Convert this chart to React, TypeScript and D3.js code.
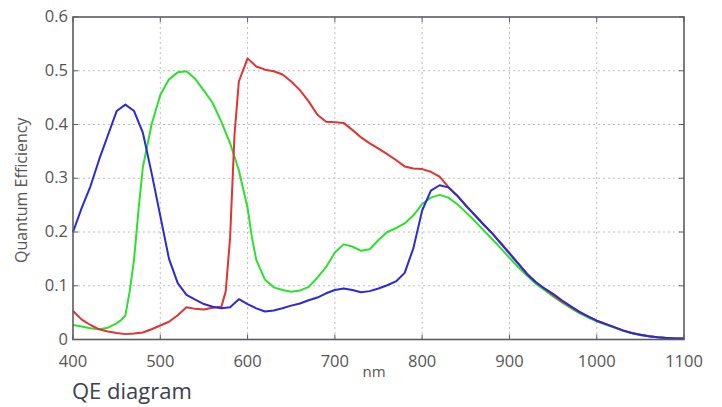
import React from "react";
import * as d3 from "d3";

const xTicks = [400, 500, 600, 700, 800, 900, 1000, 1100];
const yTicks = [0, 0.1, 0.2, 0.3, 0.4, 0.5, 0.6];
const yTickLabels = ["0", "0.1", "0.2", "0.3", "0.4", "0.5", "0.6"];

const tailNm = [1010, 1020, 1030, 1040, 1050, 1060, 1070, 1080, 1090, 1100];

const blueNm = [400, 410, 420, 430, 440, 450, 460, 470, 480, 490, 500, 510, 520, 530, 540, 550, 560, 570, 580, 590, 600, 610, 620, 630, 640, 650, 660, 670, 680, 690, 700, 710, 720, 730, 740, 750, 760, 770, 780, 790, 800, 810, 820, 830, 840, 850, 860, 870, 880, 890, 900, 910, 920, 930, 940, 950, 960, 970, 980, 990, 1000, ...tailNm];
const blueQE = [0.200, 0.245, 0.285, 0.335, 0.380, 0.425, 0.437, 0.425, 0.385, 0.310, 0.230, 0.150, 0.105, 0.083, 0.074, 0.066, 0.061, 0.058, 0.060, 0.075, 0.066, 0.058, 0.052, 0.054, 0.058, 0.063, 0.067, 0.073, 0.078, 0.086, 0.092, 0.095, 0.092, 0.088, 0.090, 0.095, 0.101, 0.108, 0.124, 0.170, 0.240, 0.277, 0.287, 0.283, 0.268, 0.249, 0.232, 0.215, 0.198, 0.179, 0.160, 0.141, 0.122, 0.107, 0.095, 0.085, 0.073, 0.062, 0.052, 0.043, 0.035, 0.029, 0.023, 0.017, 0.012, 0.009, 0.006, 0.004, 0.003, 0.002, 0.002];

const greenNm = [400, 410, 420, 430, 440, 450, 455, 460, 465, 470, 475, 480, 490, 500, 510, 520, 530, 540, 550, 560, 570, 580, 590, 600, 605, 610, 620, 630, 640, 650, 660, 670, 680, 690, 700, 710, 720, 730, 740, 750, 760, 770, 780, 790, 800, 810, 820, 830, 840, 850, 860, 870, 880, 890, 900, 910, 920, 930, 940, 950, 960, 970, 980, 990, 1000, ...tailNm];
const greenQE = [0.027, 0.024, 0.021, 0.019, 0.022, 0.030, 0.036, 0.045, 0.090, 0.150, 0.240, 0.320, 0.400, 0.455, 0.484, 0.497, 0.499, 0.485, 0.463, 0.440, 0.405, 0.365, 0.315, 0.245, 0.190, 0.148, 0.111, 0.097, 0.092, 0.089, 0.091, 0.098, 0.115, 0.135, 0.162, 0.177, 0.173, 0.165, 0.168, 0.185, 0.200, 0.207, 0.216, 0.231, 0.252, 0.264, 0.269, 0.264, 0.252, 0.237, 0.221, 0.204, 0.187, 0.170, 0.152, 0.135, 0.119, 0.104, 0.092, 0.080, 0.069, 0.059, 0.049, 0.041, 0.034, 0.028, 0.022, 0.016, 0.012, 0.008, 0.006, 0.004, 0.003, 0.002, 0.002];

const redNm = [400, 410, 420, 430, 440, 450, 460, 470, 480, 490, 500, 510, 520, 530, 540, 550, 560, 570, 575, 580, 585, 590, 600, 610, 620, 630, 640, 650, 660, 670, 680, 690, 700, 710, 720, 730, 740, 750, 760, 770, 780, 790, 800, 810, 820, 830, 840, 850, 860, 870, 880, 890, 900, 910, 920, 930, 940, 950, 960, 970, 980, 990, 1000, ...tailNm];
const redQE = [0.053, 0.037, 0.027, 0.019, 0.015, 0.012, 0.010, 0.011, 0.013, 0.019, 0.026, 0.033, 0.045, 0.060, 0.057, 0.056, 0.059, 0.061, 0.090, 0.190, 0.380, 0.480, 0.523, 0.508, 0.502, 0.499, 0.493, 0.480, 0.464, 0.443, 0.418, 0.405, 0.404, 0.403, 0.390, 0.376, 0.365, 0.355, 0.345, 0.334, 0.322, 0.318, 0.317, 0.312, 0.303, 0.284, 0.268, 0.250, 0.232, 0.214, 0.198, 0.180, 0.161, 0.142, 0.123, 0.107, 0.095, 0.083, 0.071, 0.061, 0.051, 0.043, 0.035, 0.029, 0.023, 0.017, 0.012, 0.009, 0.006, 0.004, 0.003, 0.002, 0.002];

const series = [
  { name: "Green", nm: greenNm, qe: greenQE, color: "#2ee02e" },
  { name: "Red", nm: redNm, qe: redQE, color: "#e23232" },
  { name: "Blue", nm: blueNm, qe: blueQE, color: "#2a2ad6" },
];

const W = 722;
const H = 407;
const left = 73;
const right = 684;
const top = 17;
const bottom = 339.5;

export default function App() {
  const x = d3.scaleLinear().domain([400, 1100]).range([left, right]);
  const y = d3.scaleLinear().domain([0, 0.6]).range([bottom, top]);
  const line = d3
    .line<[number, number]>()
    .x((d) => x(d[0]))
    .y((d) => y(d[1]))
    .curve(d3.curveLinear);
  const font = "'Open Sans', 'Noto Sans', sans-serif";
  const frame = "#5a5d62";
  const tickLen = 5;
  return (
    <svg
      width={W}
      height={H}
      style={{ position: "absolute", left: 0, top: 0, background: "#fff" }}
      fontFamily={font}
    >
      <rect x={0} y={0} width={W} height={H} fill="#fff" />
      {/* grid */}
      {xTicks.slice(1, -1).map((t) => (
        <line key={"gx" + t} x1={x(t)} x2={x(t)} y1={top} y2={bottom} stroke="#bdbdbd" strokeWidth={1} strokeDasharray="2,3" />
      ))}
      {yTicks.slice(1, -1).map((t) => (
        <line key={"gy" + t} x1={left} x2={right} y1={y(t)} y2={y(t)} stroke="#bdbdbd" strokeWidth={1} strokeDasharray="2,3" />
      ))}
      {/* ticks */}
      {xTicks.map((t) => (
        <g key={"tx" + t}>
          <line x1={x(t)} x2={x(t)} y1={bottom} y2={bottom - tickLen} stroke={frame} strokeWidth={1} />
          <line x1={x(t)} x2={x(t)} y1={top} y2={top + tickLen} stroke={frame} strokeWidth={1} />
          <text x={x(t)} y={367} textAnchor="middle" fontSize={16.5} fill="#555">
            {t}
          </text>
        </g>
      ))}
      {yTicks.map((t, i) => (
        <g key={"ty" + t}>
          <line x1={left} x2={left + tickLen} y1={y(t)} y2={y(t)} stroke={frame} strokeWidth={1} />
          <line x1={right} x2={right - tickLen} y1={y(t)} y2={y(t)} stroke={frame} strokeWidth={1} />
          <text x={68} y={y(t) + 5} textAnchor="end" fontSize={16.5} fill="#555">
            {yTickLabels[i]}
          </text>
        </g>
      ))}
      {/* series */}
      {series.map((s) => (
        <path
          key={s.name}
          d={line(s.nm.map((n, i) => [n, s.qe[i]] as [number, number])) || ""}
          fill="none"
          stroke={s.color}
          strokeWidth={2}
          strokeLinejoin="round"
        />
      ))}
      {/* frame */}
      <rect x={left} y={top} width={right - left} height={bottom - top} fill="none" stroke={frame} strokeWidth={1.6} />
      {/* axis titles */}
      <text x={374} y={377} textAnchor="middle" fontSize={15} fill="#555">
        nm
      </text>
      <text
        transform={`translate(27,${(top + bottom) / 2 + 12}) rotate(-90)`}
        textAnchor="middle"
        fontSize={16}
        fill="#555"
      >
        Quantum Efficiency
      </text>
      <text x={72} y={399} fontSize={22} fill="#3b414b">
        QE diagram
      </text>
    </svg>
  );
}
